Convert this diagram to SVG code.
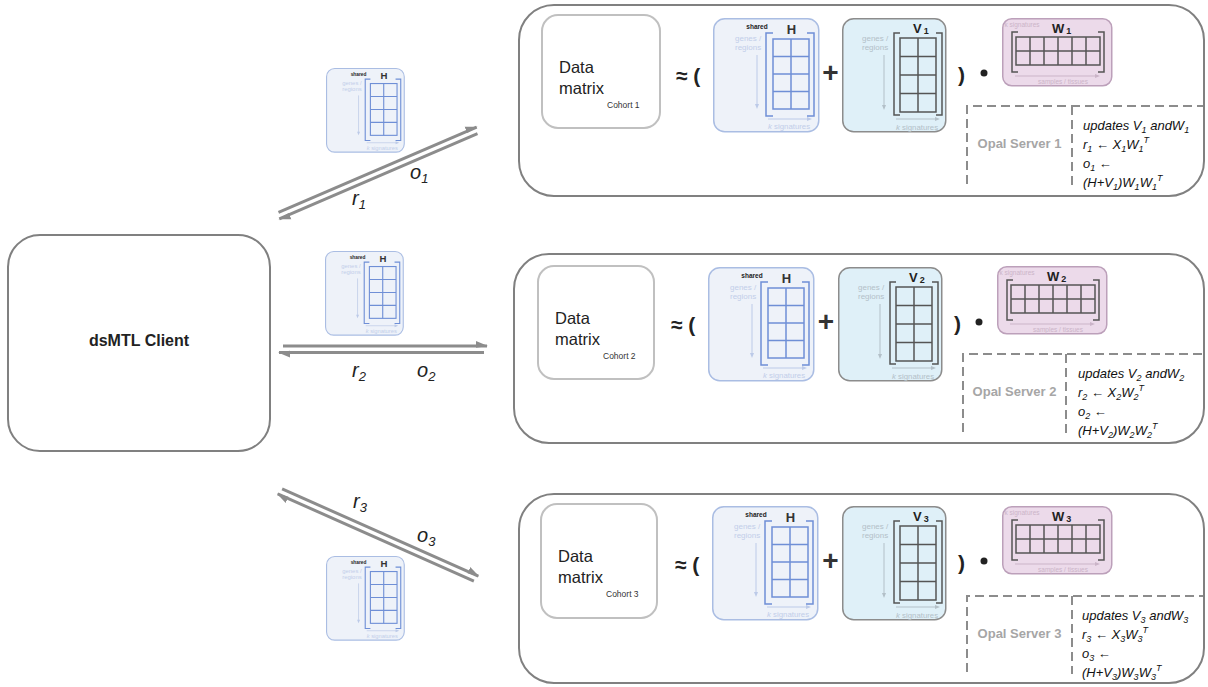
<svg xmlns="http://www.w3.org/2000/svg" width="1208" height="687" viewBox="0 0 1208 687">
<style>
text{font-family:"Liberation Sans",Arial,sans-serif}
.panel{fill:#fff;stroke:#808080;stroke-width:2}
.dm{fill:#fff;stroke:#c0c0c0;stroke-width:2}
.dmt{font-size:16.5px;fill:#222}
.coh{font-size:8.5px;fill:#333}
.op{font-size:21px;font-weight:bold;fill:#222}
.plus{font-size:28px;font-weight:bold;fill:#333;text-anchor:middle}
.dash{fill:none;stroke:#8c8c8c;stroke-width:2;stroke-dasharray:9 5}
.opal{font-size:13px;font-weight:bold;fill:#a6a6a6;text-anchor:middle}
.eq{font-size:13px;font-style:italic;fill:#111}
.s{font-size:9px}
.lab{font-size:13px;font-weight:bold;fill:#222}
.ls{font-size:9px}
.conn{fill:none;stroke:#8c8c8c;stroke-width:3}
.rl{font-size:20px;font-style:italic;fill:#222}
.rs{font-size:13px}
.hl{fill:none;stroke:#6f8fd6;stroke-width:1.5}
.vl{fill:none;stroke:#555;stroke-width:1.5}
.ht{fill:#c2cee9}
.vt{fill:#b3c0c8}
.wt{fill:#cbb4c8}
</style>
<defs>
<marker id="ah" viewBox="0 -6 12 9" refX="11" refY="0" markerWidth="12" markerHeight="9" markerUnits="userSpaceOnUse" orient="auto">
<path d="M0,-5 L12,0 L0,1.8 Z" fill="#8c8c8c"/>
</marker>
<g id="hm">
<rect x="0.75" y="0.75" width="105" height="113" rx="11" fill="#eef2f9" stroke="#aabde3" stroke-width="1.5"/>
<text x="44" y="11" font-size="6.5" font-weight="bold" fill="#222" text-anchor="middle">shared</text>
<text x="78.5" y="15.5" font-size="13" font-weight="bold" fill="#333" text-anchor="middle">H</text>
<text x="22" y="23" font-size="8" class="ht">genes /</text>
<text x="22" y="31.5" font-size="8" class="ht">regions</text>
<path d="M44,37 V88" stroke="#bccae8" stroke-width="1"/>
<path d="M42,86 L44,91 L46,86 Z" fill="#bccae8"/>
<path d="M55,101 H96" stroke="#bccae8" stroke-width="1"/>
<path d="M94,99 L99,101 L94,103 Z" fill="#bccae8"/>
<text x="55" y="111" font-size="7.8" class="ht"><tspan font-style="italic">k</tspan> signatures</text>
<path class="hl" d="M60,15 H53 V98 H60 M94,15 H101 V98 H94"/>
<rect class="hl" x="60" y="21" width="36" height="70"/>
<path class="hl" d="M78,21 V91 M60,38.5 H96 M60,56 H96 M60,73.5 H96"/>
</g>
<g id="vm">
<rect x="0.75" y="0.75" width="103" height="113" rx="11" fill="#dff0f8" stroke="#8c8c8c" stroke-width="1.5"/>
<text x="20" y="23" font-size="8" class="vt">genes /</text>
<text x="20" y="31.5" font-size="8" class="vt">regions</text>
<path d="M42,37 V89" stroke="#b3c0c8" stroke-width="1"/>
<path d="M40,87 L42,92 L44,87 Z" fill="#b3c0c8"/>
<path d="M54,101 H95" stroke="#b3c0c8" stroke-width="1"/>
<path d="M93,99 L98,101 L93,103 Z" fill="#b3c0c8"/>
<text x="54" y="112" font-size="7.8" class="vt"><tspan font-style="italic">k</tspan> signatures</text>
<path class="vl" d="M58,15 H52 V97 H58 M94,15 H100 V97 H94"/>
<rect class="vl" x="58" y="20" width="36" height="74"/>
<path class="vl" d="M76,20 V94 M58,38.5 H94 M58,57 H94 M58,75.5 H94"/>
</g>
<g id="wm">
<rect x="0.75" y="0.75" width="109" height="67" rx="9" fill="#ecdaea" stroke="#bca0ba" stroke-width="1.5"/>
<text x="2.5" y="9" font-size="6.5" class="wt">k signatures</text>
<path class="vl" d="M16,14 H10 V54 H16 M96,14 H102 V54 H96"/>
<rect class="vl" x="14" y="19" width="84" height="28"/>
<path class="vl" d="M28,19 V47 M42,19 V47 M56,19 V47 M70,19 V47 M84,19 V47 M14,33 H98"/>
<path d="M13,58 H95" stroke="#cbb4c8" stroke-width="1"/>
<path d="M93,56 L98,58 L93,60 Z" fill="#cbb4c8"/>
<text x="61" y="66" font-size="6.5" class="wt" text-anchor="middle">samples / tissues</text>
</g>
</defs>

<g id="client">
<rect x="8" y="235" width="262" height="216" rx="32" class="panel"/>
<text x="139" y="346" font-size="16" font-weight="bold" fill="#222" text-anchor="middle">dsMTL Client</text>
</g>

<g id="cohort1">
<rect id="panel1" x="519" y="5" width="685" height="191" rx="35" class="panel"/>
<g id="data1">
<rect x="542" y="15" width="118" height="113" rx="16" class="dm"/>
<text class="dmt" x="559" y="73">Data</text>
<text class="dmt" x="559" y="94">matrix</text>
<text class="coh" x="607" y="108">Cohort 1</text>
</g>
<text class="op" x="676" y="83">≈ (</text>
<g id="H1"><use href="#hm" x="713" y="18"/></g>
<text class="plus" x="830.5" y="82">+</text>
<g id="V1"><use href="#vm" x="842" y="18"/><text class="lab" x="913" y="33">V<tspan class="ls" dx="2" dy="1">1</tspan></text></g>
<text class="op" x="958" y="82">)</text>
<circle cx="984" cy="73" r="3.5" fill="#222"/>
<g id="W1"><use href="#wm" x="1002" y="18"/><text class="lab" x="1052" y="33">W<tspan class="ls" dx="2" dy="1">1</tspan></text></g>
<g id="opal1">
<path class="dash" d="M967,184 V106 H1203 M1072,106 V186"/>
<text class="opal" x="1019.5" y="148">Opal Server 1</text>
<text class="eq" x="1083" y="130">updates V<tspan class="s" dy="3">1</tspan><tspan dy="-3"> andW</tspan><tspan class="s" dy="3">1</tspan></text>
<text class="eq" x="1083" y="149">r<tspan class="s" dy="3">1</tspan><tspan dy="-3"> ← X</tspan><tspan class="s" dy="3">1</tspan><tspan dy="-3">W</tspan><tspan class="s" dy="3">1</tspan><tspan class="s" dy="-9">T</tspan></text>
<text class="eq" x="1083" y="168">o<tspan class="s" dy="3">1</tspan><tspan dy="-3"> ←</tspan></text>
<text class="eq" x="1083" y="187">(H+V<tspan class="s" dy="3">1</tspan><tspan dy="-3">)W</tspan><tspan class="s" dy="3">1</tspan><tspan dy="-3">W</tspan><tspan class="s" dy="3">1</tspan><tspan class="s" dy="-9">T</tspan></text>
</g>
</g>

<g id="cohort2">
<rect id="panel2" x="514" y="254" width="690" height="189" rx="35" class="panel"/>
<g id="data2">
<rect x="538" y="266" width="116" height="113" rx="16" class="dm"/>
<text class="dmt" x="555" y="324">Data</text>
<text class="dmt" x="555" y="345">matrix</text>
<text class="coh" x="603" y="359">Cohort 2</text>
</g>
<text class="op" x="671" y="332">≈ (</text>
<g id="H2"><use href="#hm" x="708" y="267"/></g>
<text class="plus" x="826" y="331">+</text>
<g id="V2"><use href="#vm" x="838" y="267"/><text class="lab" x="909" y="282">V<tspan class="ls" dx="2" dy="1">2</tspan></text></g>
<text class="op" x="954" y="331">)</text>
<circle cx="979" cy="322" r="3.5" fill="#222"/>
<g id="W2"><use href="#wm" x="997" y="266"/><text class="lab" x="1047" y="281">W<tspan class="ls" dx="2" dy="1">2</tspan></text></g>
<g id="opal2">
<path class="dash" d="M963,432 V354 H1203 M1066,354 V434"/>
<text class="opal" x="1014.5" y="396">Opal Server 2</text>
<text class="eq" x="1078" y="378">updates V<tspan class="s" dy="3">2</tspan><tspan dy="-3"> andW</tspan><tspan class="s" dy="3">2</tspan></text>
<text class="eq" x="1078" y="397">r<tspan class="s" dy="3">2</tspan><tspan dy="-3"> ← X</tspan><tspan class="s" dy="3">2</tspan><tspan dy="-3">W</tspan><tspan class="s" dy="3">2</tspan><tspan class="s" dy="-9">T</tspan></text>
<text class="eq" x="1078" y="416">o<tspan class="s" dy="3">2</tspan><tspan dy="-3"> ←</tspan></text>
<text class="eq" x="1078" y="435">(H+V<tspan class="s" dy="3">2</tspan><tspan dy="-3">)W</tspan><tspan class="s" dy="3">2</tspan><tspan dy="-3">W</tspan><tspan class="s" dy="3">2</tspan><tspan class="s" dy="-9">T</tspan></text>
</g>
</g>

<g id="cohort3">
<rect id="panel3" x="519" y="494" width="685" height="189" rx="35" class="panel"/>
<g id="data3">
<rect x="541" y="504" width="116" height="114" rx="16" class="dm"/>
<text class="dmt" x="558" y="562">Data</text>
<text class="dmt" x="558" y="583">matrix</text>
<text class="coh" x="606" y="597">Cohort 3</text>
</g>
<text class="op" x="675" y="572">≈ (</text>
<g id="H3"><use href="#hm" x="712" y="506"/></g>
<text class="plus" x="830.5" y="570">+</text>
<g id="V3"><use href="#vm" x="842" y="506"/><text class="lab" x="913" y="521">V<tspan class="ls" dx="2" dy="1">3</tspan></text></g>
<text class="op" x="958" y="570">)</text>
<circle cx="984" cy="561" r="3.5" fill="#222"/>
<g id="W3"><use href="#wm" x="1002" y="506"/><text class="lab" x="1052" y="521">W<tspan class="ls" dx="2" dy="1">3</tspan></text></g>
<g id="opal3">
<path class="dash" d="M967,672 V596 H1203 M1072,596 V674"/>
<text class="opal" x="1019.5" y="638">Opal Server 3</text>
<text class="eq" x="1082" y="620">updates V<tspan class="s" dy="3">3</tspan><tspan dy="-3"> andW</tspan><tspan class="s" dy="3">3</tspan></text>
<text class="eq" x="1082" y="639">r<tspan class="s" dy="3">3</tspan><tspan dy="-3"> ← X</tspan><tspan class="s" dy="3">3</tspan><tspan dy="-3">W</tspan><tspan class="s" dy="3">3</tspan><tspan class="s" dy="-9">T</tspan></text>
<text class="eq" x="1082" y="658">o<tspan class="s" dy="3">3</tspan><tspan dy="-3"> ←</tspan></text>
<text class="eq" x="1082" y="677">(H+V<tspan class="s" dy="3">3</tspan><tspan dy="-3">)W</tspan><tspan class="s" dy="3">3</tspan><tspan dy="-3">W</tspan><tspan class="s" dy="3">3</tspan><tspan class="s" dy="-9">T</tspan></text>
</g>
</g>

<g id="msg1"><use href="#hm" transform="translate(326,68) scale(0.74)"/></g>
<g id="msg2"><use href="#hm" transform="translate(325,251) scale(0.74)"/></g>
<g id="msg3"><use href="#hm" transform="translate(326,556) scale(0.74)"/></g>

<g id="connectors">
<path class="conn" d="M278.5,212.3 L476.7,127.1" marker-end="url(#ah)"/>
<path class="conn" d="M477.5,133.7 L279.3,218.9" marker-end="url(#ah)"/>
<path class="conn" d="M283,346 L487,346" marker-end="url(#ah)"/>
<path class="conn" d="M484,352.5 L279,352.5" marker-end="url(#ah)"/>
<path class="conn" d="M282.1,488.9 L478.3,576.1" marker-end="url(#ah)"/>
<path class="conn" d="M473.9,581.1 L277.7,493.9" marker-end="url(#ah)"/>
<text class="rl" x="410" y="179">o<tspan class="rs" dy="4">1</tspan></text>
<text class="rl" x="352" y="205">r<tspan class="rs" dy="4">1</tspan></text>
<text class="rl" x="352" y="377">r<tspan class="rs" dy="4">2</tspan></text>
<text class="rl" x="417" y="377">o<tspan class="rs" dy="4">2</tspan></text>
<text class="rl" x="353" y="508">r<tspan class="rs" dy="4">3</tspan></text>
<text class="rl" x="417" y="542">o<tspan class="rs" dy="4">3</tspan></text>
</g>
</svg>
